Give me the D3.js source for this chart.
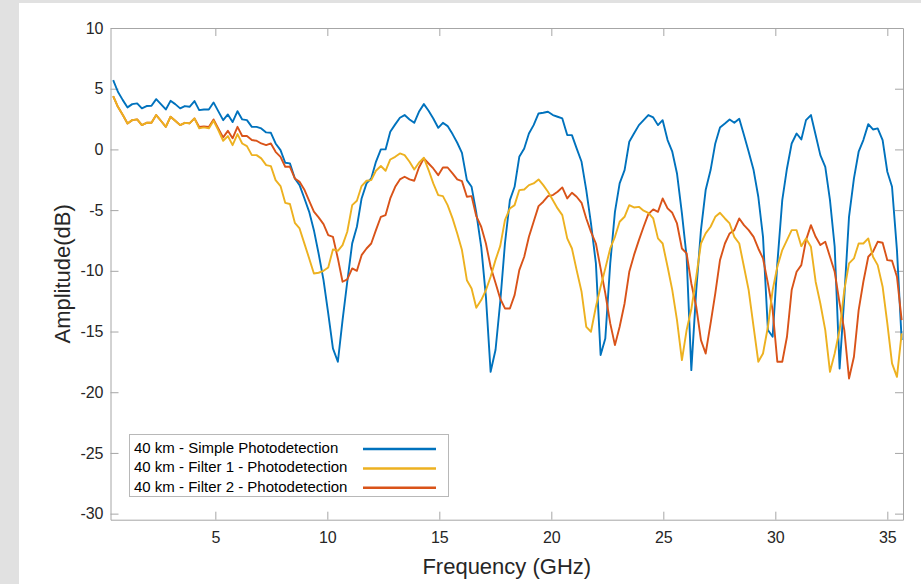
<!DOCTYPE html>
<html>
<head>
<meta charset="utf-8">
<script src="https://cdn.jsdelivr.net/npm/d3@7"></script>
<style>
  html, body { margin: 0; padding: 0; background: #ffffff; }
  svg { display: block; }
  text { font-family: "Liberation Sans", Arial, Helvetica, sans-serif; }
</style>
</head>
<body>
<svg id="chart" width="921" height="584"></svg>
<script>
// ---------------- DATA ----------------
const frequencyGHz = [
0.44,0.65,0.87,1.08,1.29,1.51,1.72,1.93,2.15,2.36,2.57,2.79,3.00,3.21,3.43,3.64,3.85,4.07,4.28,4.49,
4.71,4.92,5.13,5.35,5.56,5.77,5.99,6.20,6.41,6.63,6.84,7.05,7.27,7.48,7.69,7.91,8.12,8.33,8.55,8.76,
8.97,9.19,9.40,9.61,9.83,10.04,10.25,10.47,10.68,10.89,11.11,11.32,11.53,11.75,11.96,12.17,12.39,12.60,12.81,13.03,
13.24,13.45,13.67,13.88,14.09,14.31,14.52,14.73,14.95,15.16,15.37,15.59,15.80,16.01,16.23,16.44,16.65,16.87,17.08,17.29,
17.51,17.72,17.93,18.15,18.36,18.57,18.79,19.00,19.21,19.43,19.64,19.85,20.07,20.28,20.49,20.71,20.92,21.13,21.35,21.56,
21.77,21.99,22.20,22.41,22.63,22.84,23.05,23.27,23.48,23.69,23.91,24.12,24.33,24.55,24.76,24.97,25.19,25.40,25.61,25.83,
26.04,26.25,26.47,26.68,26.89,27.11,27.32,27.53,27.75,27.96,28.17,28.39,28.60,28.81,29.03,29.24,29.45,29.67,29.88,30.09,
30.31,30.52,30.73,30.95,31.16,31.37,31.59,31.80,32.01,32.23,32.44,32.65,32.87,33.08,33.29,33.51,33.72,33.93,34.15,34.36,
34.57,34.79,35.00,35.21,35.43,35.64
];

const simplePD = [
5.71,4.75,4.06,3.46,3.73,3.79,3.38,3.57,3.59,4.14,3.73,3.29,4.00,3.73,3.38,3.57,3.51,3.98,3.24,3.29,
3.29,3.87,3.15,2.41,2.88,2.25,3.15,2.47,2.41,1.86,1.86,1.73,1.40,1.37,0.49,-0.06,-1.10,-1.15,-2.39,-2.94,
-4.00,-5.14,-6.65,-8.57,-10.77,-13.51,-16.39,-17.49,-14.06,-10.90,-7.74,-6.37,-4.04,-2.80,-2.39,-1.02,0.00,0.00,1.45,2.06,
2.61,2.83,2.47,2.19,3.10,3.73,3.18,2.55,1.78,2.19,1.92,1.26,0.55,-0.28,-2.53,-3.08,-5.22,-8.02,-12.14,-18.32,
-16.50,-12.55,-7.75,-4.18,-3.08,-0.61,0.08,1.31,2.00,2.96,3.02,3.10,2.83,2.69,2.55,1.18,1.18,0.08,-1.02,-3.35,
-6.10,-9.39,-16.94,-15.57,-9.39,-5.14,-2.80,-1.70,0.63,1.31,2.00,2.41,2.83,2.63,2.00,2.41,0.77,-0.19,-1.98,-5.27,
-8.84,-18.18,-11.59,-6.65,-3.35,-1.70,0.49,1.81,2.14,2.47,2.19,2.52,1.18,-0.19,-1.70,-3.90,-7.20,-14.88,-15.43,-9.39,
-4.18,-1.57,0.49,1.31,0.82,2.41,2.83,1.18,-0.47,-1.43,-4.18,-8.02,-18.04,-12.14,-5.55,-2.39,-0.19,0.77,2.08,1.64,
1.73,0.77,-1.84,-3.08,-8.29,-15.71
];

const filter1PD = [
4.39,3.51,2.83,2.14,2.41,2.47,2.00,2.19,2.19,2.83,2.36,1.86,2.69,2.36,2.00,2.19,2.14,2.55,1.73,1.81,
1.73,2.36,1.59,0.71,1.10,0.35,1.26,0.49,0.27,-0.47,-0.47,-0.74,-1.29,-1.38,-2.53,-3.02,-4.40,-4.50,-6.05,-6.51,
-7.72,-8.98,-10.22,-10.16,-10.00,-9.72,-8.24,-8.35,-7.88,-6.78,-4.59,-4.23,-3.02,-2.58,-2.53,-1.76,-1.37,-1.76,-0.83,-0.61,
-0.33,-0.47,-1.02,-1.65,-1.10,-0.69,-1.70,-2.80,-3.76,-3.85,-4.59,-5.68,-6.92,-8.29,-10.77,-11.45,-13.04,-12.41,-11.59,-10.49,
-9.10,-7.95,-5.82,-4.86,-4.59,-3.35,-3.30,-2.94,-2.80,-2.47,-2.94,-3.49,-4.18,-4.86,-5.41,-7.33,-8.16,-9.94,-11.73,-14.61,
-15.02,-12.96,-11.31,-9.80,-8.16,-7.20,-5.96,-5.55,-4.59,-4.78,-4.73,-5.05,-5.22,-5.69,-7.33,-7.75,-9.67,-11.59,-14.06,-17.35,
-14.88,-13.17,-10.49,-7.75,-6.92,-6.37,-5.55,-5.22,-5.69,-6.10,-7.20,-7.75,-9.67,-11.59,-14.61,-17.49,-16.81,-14.61,-11.59,-9.67,
-8.29,-7.47,-6.65,-6.65,-7.97,-7.33,-8.02,-10.90,-12.69,-14.88,-18.32,-16.81,-14.88,-11.59,-9.39,-8.98,-7.75,-7.75,-7.33,-8.84,
-9.53,-11.31,-14.33,-17.63,-18.73,-15.16
];

const filter2PD = [
4.39,3.51,2.83,2.14,2.41,2.47,2.00,2.19,2.19,2.83,2.36,1.86,2.69,2.36,2.00,2.19,2.14,2.55,1.85,1.90,
1.85,2.47,1.73,0.99,1.53,0.91,1.86,1.10,1.10,0.77,0.71,0.49,0.35,0.49,-0.20,-0.61,-1.43,-1.43,-2.39,-2.67,
-3.30,-4.23,-5.13,-5.60,-6.15,-7.06,-7.20,-8.98,-10.90,-10.71,-9.80,-10.00,-8.71,-8.16,-7.75,-6.65,-5.55,-5.41,-4.04,-3.08,
-2.47,-2.25,-2.47,-2.58,-1.49,-0.74,-1.16,-1.57,-2.12,-1.49,-1.49,-1.98,-2.47,-2.61,-3.90,-3.85,-5.50,-6.37,-7.75,-9.67,
-11.00,-12.30,-13.10,-13.10,-12.00,-9.94,-8.84,-7.20,-5.96,-4.67,-4.31,-3.85,-3.76,-3.49,-3.13,-4.04,-3.57,-3.90,-4.40,-5.69,
-6.79,-7.75,-9.80,-11.86,-14.33,-16.12,-14.61,-12.69,-10.08,-8.71,-7.47,-6.37,-5.33,-4.94,-5.14,-4.04,-4.86,-5.22,-6.10,-8.16,
-8.57,-11.04,-12.96,-15.71,-16.81,-14.33,-11.86,-9.12,-7.75,-6.92,-6.65,-5.69,-6.24,-6.65,-7.20,-8.16,-8.98,-11.04,-13.24,-17.49,
-17.49,-15.43,-11.59,-10.08,-9.53,-7.47,-6.24,-7.20,-7.88,-7.61,-8.84,-10.08,-12.69,-14.88,-18.87,-17.08,-13.24,-10.90,-8.84,-8.43,
-7.61,-7.69,-9.12,-9.17,-10.49,-14.06
];

const seriesNames = [
  "40 km - Simple Photodetection",
  "40 km - Filter 1 - Photodetection",
  "40 km - Filter 2 - Photodetection"
];
const seriesColors = ["#0072BD", "#EDB120", "#D95319"];
const xTicks = [5, 10, 15, 20, 25, 30, 35];
const yTicks = [-30, -25, -20, -15, -10, -5, 0, 5, 10];
const xLabel = "Frequency (GHz)";
const yLabel = "Amplitude(dB)";

// ---------------- LAYOUT ----------------
const W = 921, H = 584;
const plot = { left: 110.5, right: 903, top: 28, bottom: 519.7 };

const svg = d3.select("#chart");

// figure background
svg.append("rect").attr("x", 0).attr("y", 0).attr("width", W).attr("height", H).attr("fill", "#e1e1e1");
svg.append("rect").attr("x", 19).attr("y", 3).attr("width", W - 19).attr("height", H - 3).attr("fill", "#ffffff");

const x = d3.scaleLinear().domain([0.32, 35.70]).range([plot.left, plot.right]);
const y = d3.scaleLinear().domain([-30.5, 10]).range([plot.bottom, plot.top]);

const axisColor = "#a6a6a6";
const textColor = "#262626";
const plainFormat = d => String(d);   // ASCII hyphen-minus like the reference

function styleAxis(g, showText) {
  g.selectAll(".domain").attr("stroke", axisColor).attr("stroke-width", 1);
  g.selectAll(".tick line").attr("stroke", axisColor).attr("stroke-width", 1);
  g.selectAll(".tick text")
    .attr("fill", textColor)
    .style("font-size", "16px")
    .style("font-family", "'Liberation Sans', Arial, Helvetica, sans-serif")
    .style("display", showText ? null : "none");
}

// axes
const gx = svg.append("g").attr("transform", `translate(0,${plot.bottom})`)
  .call(d3.axisBottom(x).tickValues(xTicks).tickFormat(plainFormat).tickSizeInner(-8).tickSizeOuter(0).tickPadding(12));
styleAxis(gx, true);

const gxTop = svg.append("g").attr("transform", `translate(0,${plot.top})`)
  .call(d3.axisTop(x).tickValues(xTicks).tickSizeInner(-8).tickSizeOuter(0));
styleAxis(gxTop, false);

const gy = svg.append("g").attr("transform", `translate(${plot.left},0)`)
  .call(d3.axisLeft(y).tickValues(yTicks).tickFormat(plainFormat).tickSizeInner(-8).tickSizeOuter(0).tickPadding(7));
styleAxis(gy, true);

const gyRight = svg.append("g").attr("transform", `translate(${plot.right},0)`)
  .call(d3.axisRight(y).tickValues(yTicks).tickSizeInner(-8).tickSizeOuter(0));
styleAxis(gyRight, false);

// clip
svg.append("clipPath").attr("id", "plotClip")
  .append("rect").attr("x", plot.left).attr("y", plot.top)
  .attr("width", plot.right - plot.left).attr("height", plot.bottom - plot.top);

// lines
const seriesValues = [simplePD, filter1PD, filter2PD];
const line = d3.line().x(d => x(d[0])).y(d => y(d[1]));
const drawOrder = [0, 2, 1];
const linesG = svg.append("g").attr("clip-path", "url(#plotClip)");
drawOrder.forEach(k => {
  const pts = frequencyGHz.map((f, i) => [f, seriesValues[k][i]]);
  linesG.append("path")
    .datum(pts)
    .attr("d", line)
    .attr("fill", "none")
    .attr("stroke", seriesColors[k])
    .attr("stroke-width", 1.9)
    .attr("stroke-linejoin", "round");
});

// axis labels
svg.append("text")
  .attr("x", (plot.left + plot.right) / 2)
  .attr("y", 574)
  .attr("text-anchor", "middle")
  .attr("fill", textColor)
  .style("font-size", "22px")
  .text(xLabel);

svg.append("text")
  .attr("transform", `translate(70,${(plot.top + plot.bottom) / 2}) rotate(-90)`)
  .attr("text-anchor", "middle")
  .attr("fill", textColor)
  .style("font-size", "22px")
  .text(yLabel);

// legend
const leg = svg.append("g");
leg.append("rect")
  .attr("x", 129.5).attr("y", 434.5).attr("width", 319).attr("height", 62)
  .attr("fill", "#ffffff").attr("stroke", "#b8b8b8").attr("stroke-width", 1);
const rowY = [447.5, 467, 486.3];
seriesNames.forEach((name, k) => {
  leg.append("text")
    .attr("x", 134)
    .attr("y", rowY[k])
    .attr("dy", "0.35em")
    .attr("fill", "#000000")
    .style("font-size", "15px")
    .text(name);
  leg.append("line")
    .attr("x1", 363).attr("x2", 436)
    .attr("y1", rowY[k] + 1.5).attr("y2", rowY[k] + 1.5)
    .attr("stroke", seriesColors[k])
    .attr("stroke-width", 2.4);
});
</script>
</body>
</html>
